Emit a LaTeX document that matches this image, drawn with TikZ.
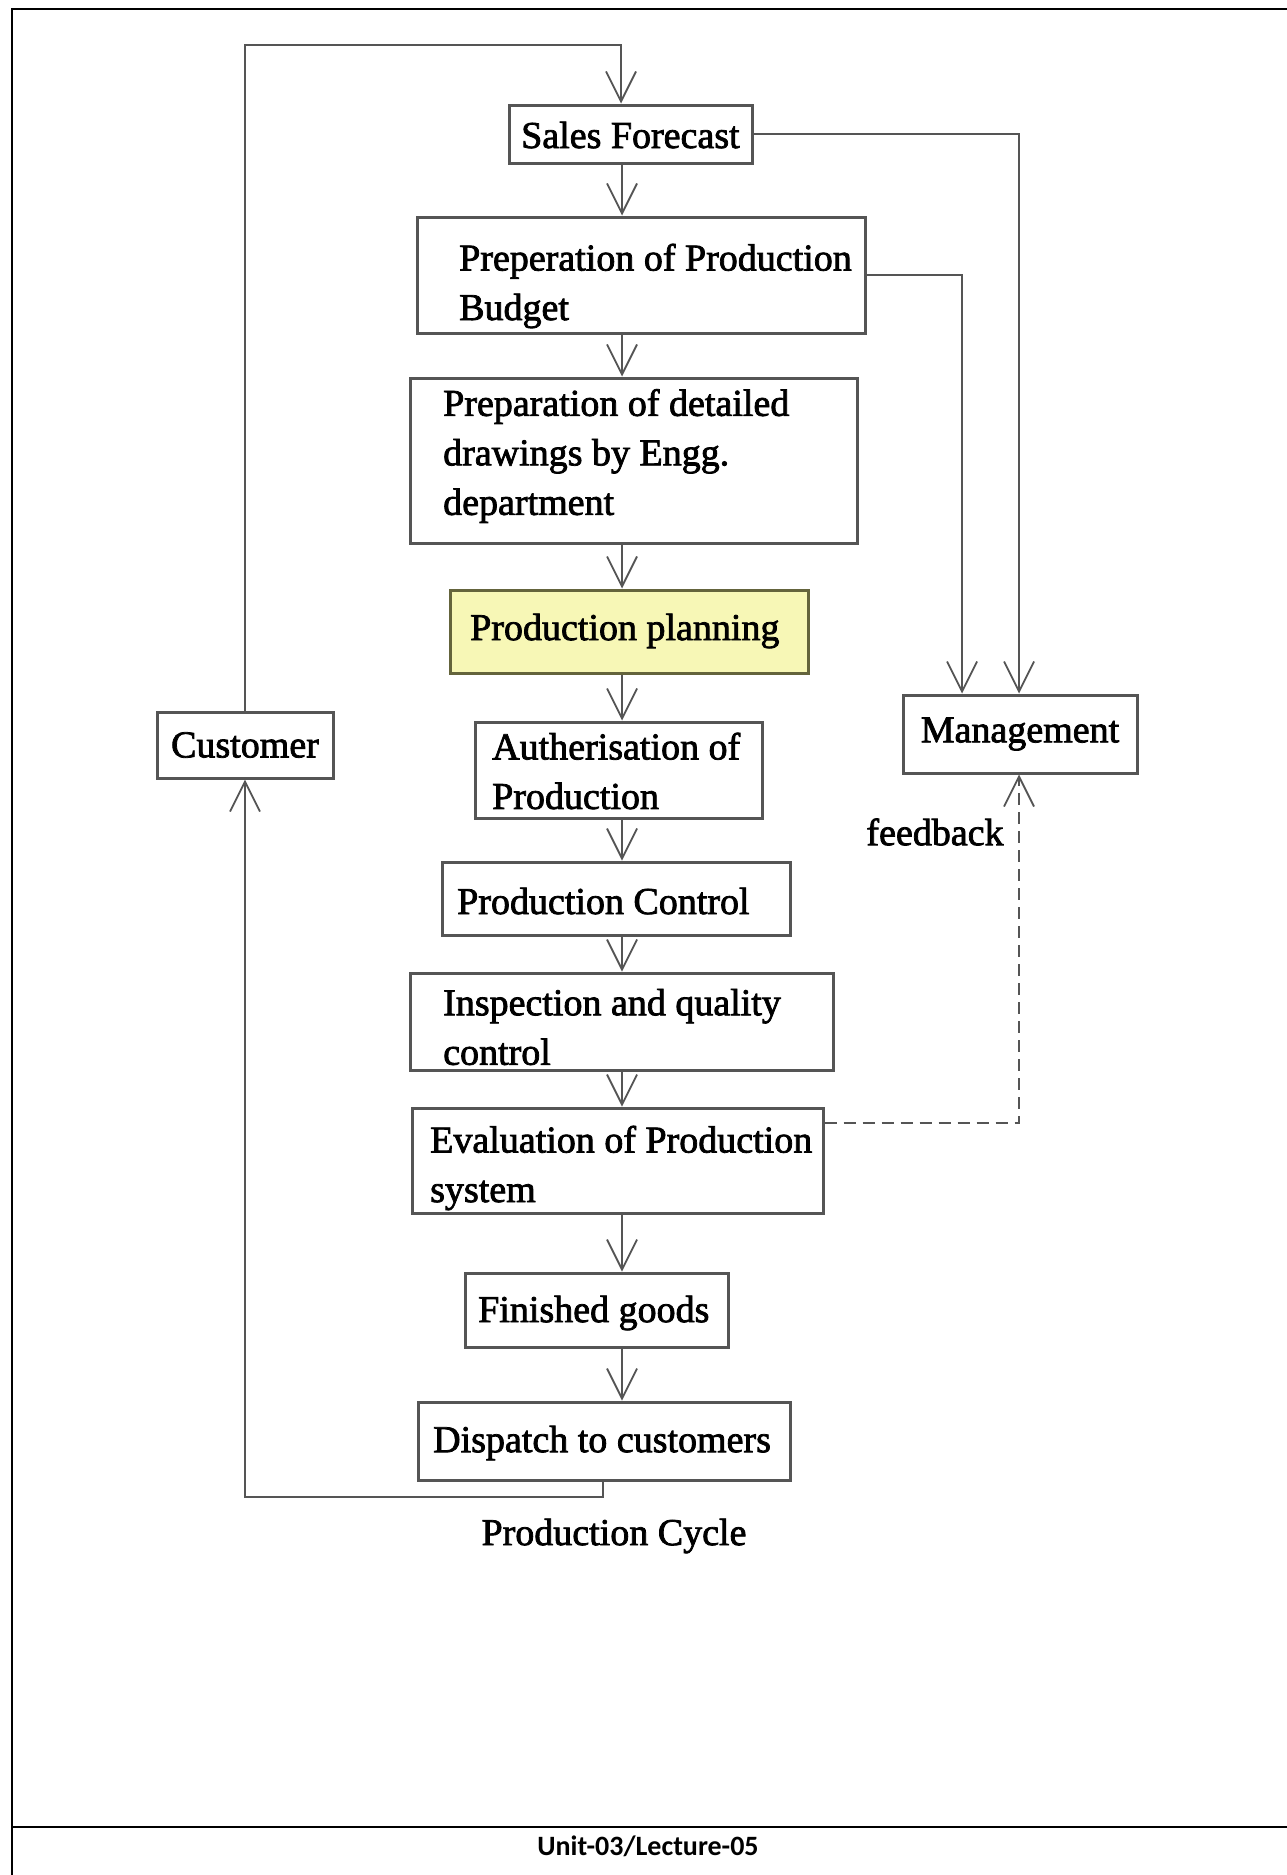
\documentclass[tikz,border=0pt]{standalone}
\usepackage{fontspec}
\setmainfont{Liberation Serif}
\newfontfamily\stagefont{Liberation Serif}[FakeBold=2]
\newfontfamily\footfont{Carlito}
\usetikzlibrary{arrows.meta,fit}

\definecolor{planfill}{RGB}{247,247,182}
\definecolor{planline}{RGB}{100,100,60}
\definecolor{wire}{RGB}{85,85,85}

\begin{document}
\begin{tikzpicture}[x=1pt,y=-1pt,
  stagebox/.style={draw=wire, line width=3pt, inner sep=0pt},
  planbox/.style={stagebox, fill=planfill, draw=planline},
  txt/.style={inner sep=0pt, align=left, font={\stagefont\fontsize{38pt}{49.5pt}\selectfont}},
  flow/.style={draw=wire, line width=2.6pt,
    -{Straight Barb[length=30pt, width=30pt, line width=1.8pt]}},
  feedback/.style={flow, dash pattern=on 12pt off 7pt}
]
% page and frame
\fill[white] (0,0) rectangle (1286,1875);
\useasboundingbox (0,0) rectangle (1286,1875);
\draw[black, line width=2pt] (1290,9) -- (12,9) -- (12,1880);
\draw[black, line width=2pt] (12,1827) -- (1290,1827);
\node[font={\footfont\bfseries\fontsize{28pt}{32pt}\selectfont}] (footer) at (648,1846) {Unit-03/Lecture-05};

% stage boxes
\node[stagebox, fit={(509,105) (752,163)}] (sf) {};
\node[txt, anchor=west] (sf-t) at (521,135) {Sales Forecast};

\node[stagebox, fit={(417,217) (865,333)}] (budget) {};
\node[txt, anchor=west] (budget-t) at (459,286) {Preperation of Production\\Budget};

\node[stagebox, fit={(410,378) (857,543)}] (draw) {};
\node[txt, anchor=west] (draw-t) at (443,456) {Preparation of detailed\\drawings by Engg.\\department};

\node[planbox, fit={(450,590) (808,673)}] (plan) {};
\node[txt, anchor=west] (plan-t) at (470,631) {Production planning};

\node[stagebox, fit={(475,722) (762,818)}] (auth) {};
\node[txt, anchor=west] (auth-t) at (492,771) {Autherisation of\\Production};

\node[stagebox, fit={(442,862) (790,935)}] (ctrl) {};
\node[txt, anchor=west] (ctrl-t) at (457,901) {Production Control};

\node[stagebox, fit={(410,973) (833,1070)}] (insp) {};
\node[txt, anchor=west] (insp-t) at (443,1027) {Inspection and quality\\control};

\node[stagebox, fit={(412,1108) (823,1213)}] (eval) {};
\node[txt, anchor=west] (eval-t) at (430,1168) {Evaluation of Production\\system};

\node[stagebox, fit={(465,1273) (728,1347)}] (fin) {};
\node[txt, anchor=west] (fin-t) at (478,1313) {Finished goods};

\node[stagebox, fit={(418,1402) (790,1480)}] (disp) {};
\node[txt, anchor=west] (disp-t) at (433,1443) {Dispatch to customers};

\node[stagebox, minimum width=176pt, minimum height=66pt, txt] (cust) at (245,745) {Customer};
\node[stagebox, minimum width=234pt, minimum height=78pt, txt] (mgmt) at (1020,734) {Management};

% free labels
\node[txt] (fb-label) at (935,832) {feedback};
\node[txt] (cycle) at (614,1536) {Production Cycle};

% routing points
\coordinate (spine) at (622,0);
\coordinate (topturn) at (621,45);
\coordinate (botturn) at (603,1497);
\coordinate (mgL) at (962,0);
\coordinate (mgR) at (1019,0);
\coordinate (fbrow) at (0,1123);

% main chain
\draw[flow] (sf.south -| spine) -- (budget.north -| spine);
\draw[flow] (budget.south -| spine) -- (draw.north -| spine);
\draw[flow] (draw.south -| spine) -- (plan.north -| spine);
\draw[flow] (plan.south -| spine) -- (auth.north -| spine);
\draw[flow] (auth.south -| spine) -- (ctrl.north -| spine);
\draw[flow] (ctrl.south -| spine) -- (insp.north -| spine);
\draw[flow] (insp.south -| spine) -- (eval.north -| spine);
\draw[flow] (eval.south -| spine) -- (fin.north -| spine);
\draw[flow] (fin.south -| spine) -- (disp.north -| spine);

% customer loop
\draw[flow] (botturn |- disp.south) -- (botturn) -| (cust.south);
\draw[flow] (cust.north) |- (topturn) -- (topturn |- sf.north);

% reports to management
\draw[flow] (sf.east) -| (mgR |- mgmt.north);
\draw[flow] (budget.east) -| (mgL |- mgmt.north);
\draw[feedback] (eval.east |- fbrow) -| (mgR |- mgmt.south);
\end{tikzpicture}
\end{document}
